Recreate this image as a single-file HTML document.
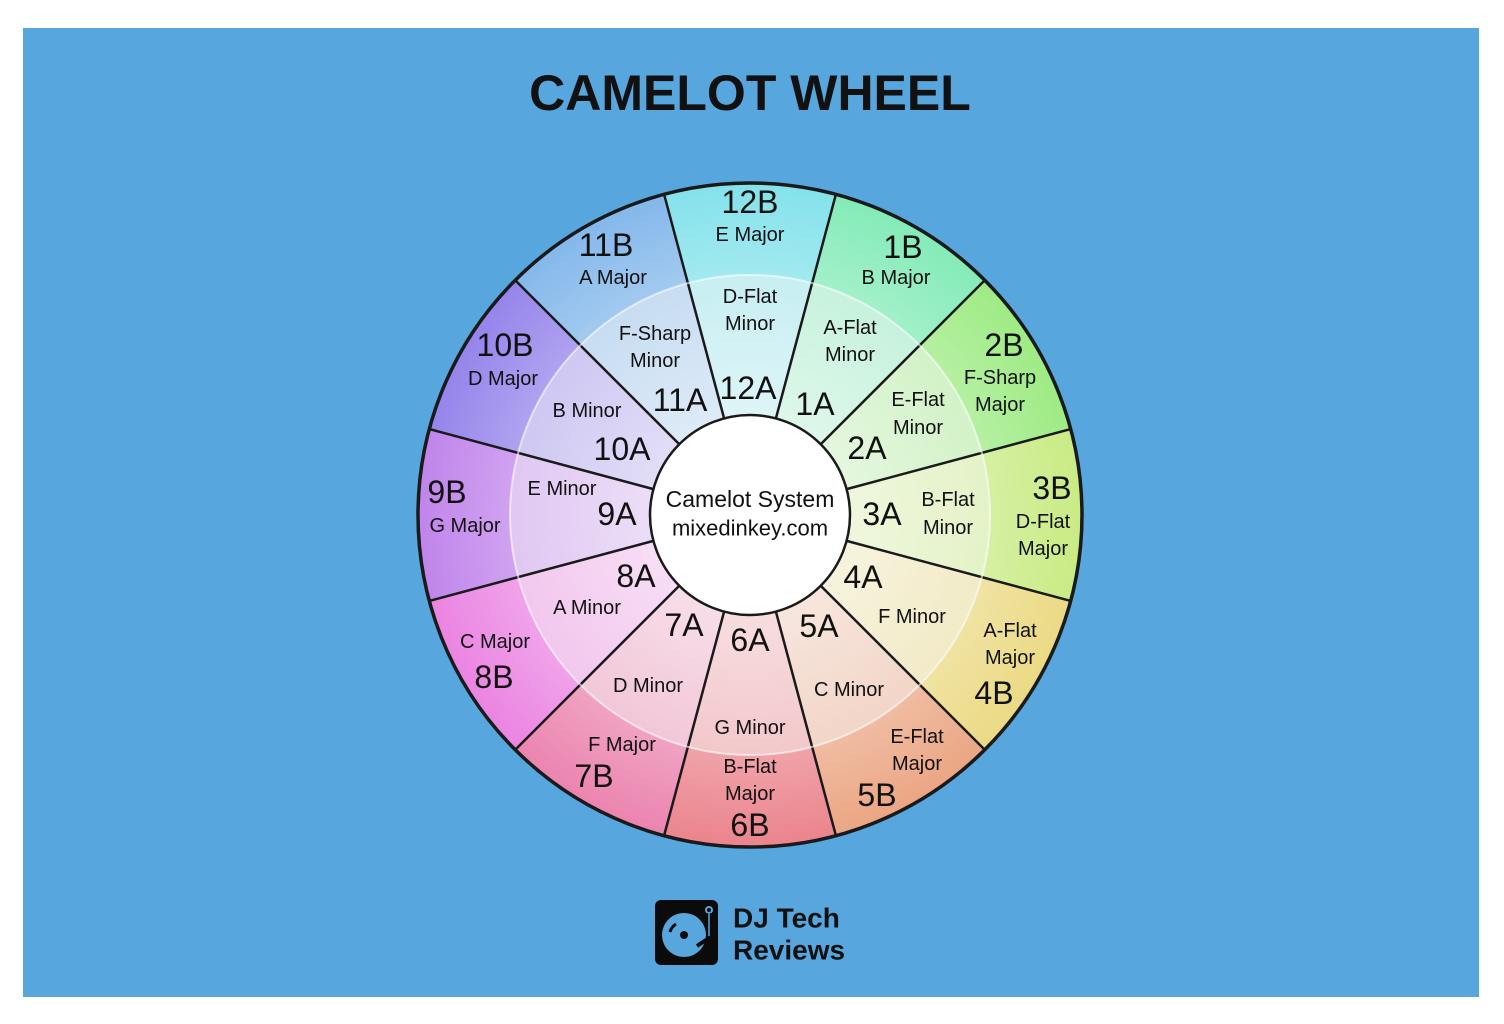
<!DOCTYPE html>
<html><head><meta charset="utf-8"><style>
html,body{margin:0;padding:0;background:#fff;}
svg{display:block;}
text{font-family:"Liberation Sans",sans-serif;fill:#111;text-anchor:middle;dominant-baseline:central;}
.b{font-size:32px;}
.s{font-size:20px;}
</style></head><body>
<svg id="s" width="1504" height="1024" viewBox="0 0 1504 1024" xmlns="http://www.w3.org/2000/svg">
<defs>
<radialGradient id="wg" cx="750" cy="515" r="332" gradientUnits="userSpaceOnUse">
<stop offset="0.3" stop-color="#fff" stop-opacity="0.55"/>
<stop offset="0.72" stop-color="#fff" stop-opacity="0.25"/>
<stop offset="1" stop-color="#fff" stop-opacity="0"/>
</radialGradient>
</defs>
<rect x="0" y="0" width="1504" height="1024" fill="#fff"/>
<rect x="23" y="28" width="1456" height="969" fill="#57a7de"/>
<text x="750" y="93" style="font-size:50px;font-weight:bold" fill="#161616">CAMELOT WHEEL</text>
<g id="wheel"></g>
<g id="labels">
<text class="b" x="750" y="202">12B</text><text class="s" x="750" y="235">E Major</text>
<text class="b" x="606" y="245">11B</text><text class="s" x="613" y="278">A Major</text>
<text class="b" x="903" y="247">1B</text><text class="s" x="896" y="278">B Major</text>
<text class="b" x="505" y="345">10B</text><text class="s" x="503" y="379">D Major</text>
<text class="b" x="1004" y="345">2B</text><text class="s" x="1000" y="378">F-Sharp</text><text class="s" x="1000" y="405">Major</text>
<text class="b" x="447" y="492">9B</text><text class="s" x="465" y="526">G Major</text>
<text class="b" x="1052" y="488">3B</text><text class="s" x="1043" y="522">D-Flat</text><text class="s" x="1043" y="549">Major</text>
<text class="b" x="494" y="677">8B</text><text class="s" x="495" y="642">C Major</text>
<text class="b" x="994" y="693">4B</text><text class="s" x="1010" y="631">A-Flat</text><text class="s" x="1010" y="658">Major</text>
<text class="b" x="594" y="776">7B</text><text class="s" x="622" y="745">F Major</text>
<text class="b" x="877" y="795">5B</text><text class="s" x="917" y="737">E-Flat</text><text class="s" x="917" y="764">Major</text>
<text class="b" x="750" y="825">6B</text><text class="s" x="750" y="767">B-Flat</text><text class="s" x="750" y="794">Major</text>

<text class="s" x="750" y="297">D-Flat</text><text class="s" x="750" y="324">Minor</text><text class="b" x="748" y="388">12A</text>
<text class="s" x="655" y="334">F-Sharp</text><text class="s" x="655" y="361">Minor</text><text class="b" x="680" y="400">11A</text>
<text class="s" x="850" y="328">A-Flat</text><text class="s" x="850" y="355">Minor</text><text class="b" x="815" y="404">1A</text>
<text class="s" x="587" y="411">B Minor</text><text class="b" x="622" y="449">10A</text>
<text class="s" x="918" y="400">E-Flat</text><text class="s" x="918" y="428">Minor</text><text class="b" x="867" y="448">2A</text>
<text class="s" x="562" y="489">E Minor</text><text class="b" x="617" y="514">9A</text>
<text class="s" x="948" y="500">B-Flat</text><text class="s" x="948" y="528">Minor</text><text class="b" x="882" y="514">3A</text>
<text class="b" x="636" y="576">8A</text><text class="s" x="587" y="608">A Minor</text>
<text class="b" x="863" y="577">4A</text><text class="s" x="912" y="617">F Minor</text>
<text class="b" x="684" y="625">7A</text><text class="s" x="648" y="686">D Minor</text>
<text class="b" x="819" y="626">5A</text><text class="s" x="849" y="690">C Minor</text>
<text class="b" x="750" y="640">6A</text><text class="s" x="750" y="728">G Minor</text>

<text x="750" y="499" style="font-size:23px">Camelot System</text>
<text x="750" y="528" style="font-size:22px">mixedinkey.com</text>
</g>
<g>
<rect x="655" y="900" width="63" height="65" rx="6" fill="#0b0b0b"/>
<circle cx="684" cy="935" r="22" fill="#57a7de"/>
<circle cx="684" cy="935" r="4" fill="#0b0b0b"/>
<path d="M676 924 a14 14 0 0 0 -6 8" stroke="#0b0b0b" stroke-width="3" fill="none"/>
<circle cx="709" cy="910" r="3" fill="none" stroke="#57a7de" stroke-width="2"/>
<path d="M709 913 L709 938 L697 946" stroke="#0b0b0b" stroke-width="4" fill="none"/>
<path d="M709 913 L709 936" stroke="#57a7de" stroke-width="1.5" fill="none"/>
<text x="733" y="918" style="font-size:28px;font-weight:bold;text-anchor:start" fill="#0b0b0b">DJ Tech</text>
<text x="733" y="950" style="font-size:28px;font-weight:bold;text-anchor:start" fill="#0b0b0b">Reviews</text>
</g>
</svg>
<script>
(function(){
var cx=750,cy=515,R=332,M=240,r0=100;
var hues=[185,150,105,80,50,20,355,335,305,275,250,210];
var g=document.getElementById('wheel'),ns='http://www.w3.org/2000/svg';
function pt(r,a){var t=(a-90)*Math.PI/180;return [cx+r*Math.cos(t),cy+r*Math.sin(t)];}
function seg(r1,r2,a1,a2,fill){
 var p1=pt(r2,a1),p2=pt(r2,a2),p3=pt(r1,a2),p4=pt(r1,a1);
 var d='M'+p1+' A'+r2+' '+r2+' 0 0 1 '+p2+' L'+p3+' A'+r1+' '+r1+' 0 0 0 '+p4+'Z';
 var e=document.createElementNS(ns,'path');e.setAttribute('d',d);e.setAttribute('fill',fill);g.appendChild(e);}
for(var i=0;i<12;i++){
 var a=i*30,h=hues[i];
 seg(M,R,a-15,a+15,'hsl('+h+',72%,72%)');
 seg(r0,M,a-15,a+15,'hsl('+h+',62%,82%)');
}
function circ(r,f,s,w){var c=document.createElementNS(ns,'circle');c.setAttribute('cx',cx);c.setAttribute('cy',cy);c.setAttribute('r',r);c.setAttribute('fill',f);c.setAttribute('stroke',s);c.setAttribute('stroke-width',w);g.appendChild(c);}
circ(R,'url(#wg)','none',0);
for(var i=0;i<12;i++){
 var a=i*30+15,p=pt(r0,a),q=pt(R,a);
 var l=document.createElementNS(ns,'line');
 l.setAttribute('x1',p[0]);l.setAttribute('y1',p[1]);l.setAttribute('x2',q[0]);l.setAttribute('y2',q[1]);
 l.setAttribute('stroke','#1a1a1a');l.setAttribute('stroke-width','2.5');g.appendChild(l);
}
circ(M,'none','rgba(255,255,255,0.6)',2);
circ(r0,'#fff','#1a1a1a',2.5);
circ(R,'none','#1a1a1a',3.5);
})();
</script>
</body></html>
